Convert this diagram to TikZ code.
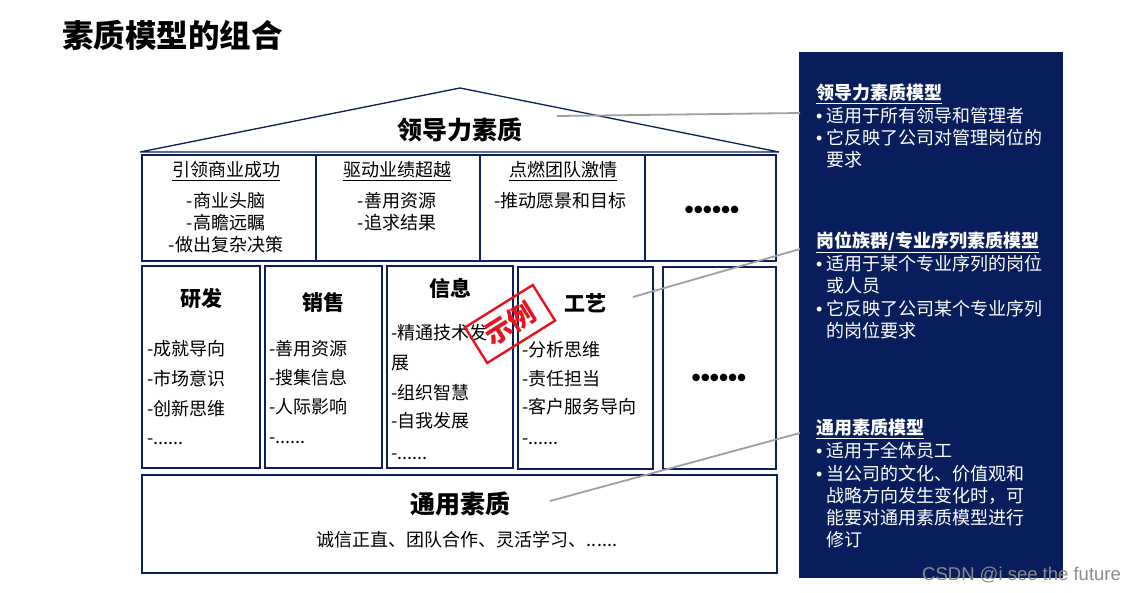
\documentclass[tikz,border=0pt]{standalone}
\usepackage{fontspec}
\setmainfont{Noto Sans CJK SC}
\setsansfont{Liberation Sans}
\definecolor{navy}{RGB}{10,31,92}
\definecolor{panel}{RGB}{8,30,92}
\definecolor{stampred}{RGB}{230,20,30}
\definecolor{conn}{RGB}{160,160,160}
\newcommand{\pbul}{\makebox[10pt][l]{\sffamily•}}
\begin{document}
\begin{tikzpicture}[x=1pt,y=-1pt,
  box/.style={draw=navy,line width=1.3pt},
  roof/.style={draw=navy,line width=1.3pt},
  divider/.style={draw=navy,line width=2pt},
  item/.style={anchor=west,inner sep=0pt,font=\fontsize{18}{20}\selectfont},
  ditem/.style={anchor=base west,inner sep=0pt,font=\fontsize{18}{20}\selectfont},
  citem/.style={anchor=center,inner sep=0pt,font=\fontsize{18}{20}\selectfont},
  head/.style={anchor=center,inner sep=0pt,font=\fontsize{21}{24}\selectfont\bfseries},
  big/.style={anchor=center,inner sep=0pt,font=\fontsize{25}{28}\selectfont\bfseries},
  dots/.style={anchor=center,inner sep=0pt,font=\sffamily\fontsize{26}{28}\selectfont\bfseries},
  ptext/.style={anchor=west,inner sep=0pt,text=white,font=\fontsize{18}{20}\selectfont},
  phead/.style={anchor=west,inner sep=0pt,text=white,font=\fontsize{18}{20}\selectfont\bfseries},
  conline/.style={draw=conn,line width=1.8pt}]
\useasboundingbox (0,0) rectangle (1143,592);
\fill[white] (0,0) rectangle (1143,592);

% title
\node[anchor=west,inner sep=0pt,font=\fontsize{31.5}{34}\selectfont\bfseries] (title) at (62,35) {素质模型的组合};

% roof
\coordinate (roofL) at (140,152);
\coordinate (roofT) at (460,88);
\coordinate (roofR) at (779,152);
\draw[roof] (roofL) -- (roofT) -- (roofR) -- cycle;
\node[big] (lead) at (460,130) {领导力素质};

% top box
\draw[box] (142,155) rectangle (776,261);
\draw[divider] (316,155) -- (316,261);
\draw[divider] (480,155) -- (480,261);
\draw[divider] (645,155) -- (645,261);
\node[citem] (h1) at (226,171) {\underline{引领商业成功}};
\node[citem] (h2) at (397,171) {\underline{驱动业绩超越}};
\node[citem] (h3) at (563,171) {\underline{点燃团队激情}};
\node[citem] (h1a) at (226,201) {-商业头脑};
\node[citem] (h1b) at (226,223) {-高瞻远瞩};
\node[citem] (h1c) at (226,245) {-做出复杂决策};
\node[citem] (h2a) at (397,201) {-善用资源};
\node[citem] (h2b) at (397,223) {-追求结果};
\node[item] (h3a) at (494,201) {-推动愿景和目标};
\node[dots] (h4) at (712,212) {••••••};

% middle boxes
\draw[box] (142,266) rectangle (260,468);
\draw[box] (265,266) rectangle (382,468);
\draw[box] (387,266) rectangle (513,468);
\draw[box] (518,267) rectangle (653,469);
\draw[box] (663,267) rectangle (776,469);

\node[head] (m1) at (201,299) {研发};
\node[item] (m1a) at (147,349) {-成就导向};
\node[item] (m1b) at (147,379) {-市场意识};
\node[item] (m1c) at (147,409) {-创新思维};
\node[ditem] (m1d) at (147,444) {-......};

\node[head] (m2) at (323,302) {销售};
\node[item] (m2a) at (269,349) {-善用资源};
\node[item] (m2b) at (269,378) {-搜集信息};
\node[item] (m2c) at (269,407) {-人际影响};
\node[ditem] (m2d) at (269,443) {-......};

\node[head] (m3) at (450,288) {信息};
\node[item] (m3a) at (391,333) {-精通技术发};
\node[item] (m3b) at (391,363) {展};
\node[item] (m3c) at (391,393) {-组织智慧};
\node[item] (m3d) at (391,421) {-自我发展};
\node[ditem] (m3e) at (391,459) {-......};

\node[head] (m4) at (585,303) {工艺};
\node[item] (m4a) at (522,350) {-分析思维};
\node[item] (m4b) at (522,379) {-责任担当};
\node[item] (m4c) at (522,407) {-客户服务导向};
\node[ditem] (m4d) at (522,444) {-......};

\node[dots] (m5) at (719,380) {••••••};

% stamp
\node[draw=stampred,line width=2.4pt,rotate=32,minimum width=80pt,minimum height=42pt,inner sep=0pt,text=stampred,font=\fontsize{27}{28}\selectfont\bfseries] (stamp) at (510,324) {示例};

% bottom box
\draw[box] (142,475) rectangle (777,573);
\node[big] (gen) at (460,504) {通用素质};
\node[citem] (gena) at (467,540) {诚信正直、团队合作、灵活学习、......};

% right panel
\fill[panel] (799,52) rectangle (1063,578);
\node[phead] (p1) at (816,94) {\underline{领导力素质模型}};
\node[ptext] (p1a) at (816,116) {\pbul 适用于所有领导和管理者};
\node[ptext] (p1b) at (816,138) {\pbul 它反映了公司对管理岗位的};
\node[ptext] (p1c) at (826,160) {要求};

\node[phead] (p2) at (816,242) {\underline{岗位族群/专业序列素质模型}};
\node[ptext] (p2a) at (816,264) {\pbul 适用于某个专业序列的岗位};
\node[ptext] (p2b) at (826,286) {或人员};
\node[ptext] (p2c) at (816,309) {\pbul 它反映了公司某个专业序列};
\node[ptext] (p2d) at (826,331) {的岗位要求};

\node[phead] (p3) at (816,429) {\underline{通用素质模型}};
\node[ptext] (p3a) at (816,451) {\pbul 适用于全体员工};
\node[ptext] (p3b) at (816,474) {\pbul 当公司的文化、价值观和};
\node[ptext] (p3c) at (826,496) {战略方向发生变化时，可};
\node[ptext] (p3d) at (826,518) {能要对通用素质模型进行};
\node[ptext] (p3e) at (826,540) {修订};

% connectors
\coordinate (c1s) at (557,116);
\coordinate (c1e) at (800,113);
\coordinate (c2s) at (633,297);
\coordinate (c2e) at (800,249);
\coordinate (c3s) at (550,501);
\coordinate (c3e) at (800,433);
\draw[conline] (c1s) -- (c1e);
\draw[conline] (c2s) -- (c2e);
\draw[conline] (c3s) -- (c3e);

% watermark
\node[anchor=west,inner sep=0pt,text=black!45,font=\sffamily\fontsize{18.5}{20}\selectfont] (wm) at (922,575) {CSDN @i see the future};
\end{tikzpicture}
\end{document}
